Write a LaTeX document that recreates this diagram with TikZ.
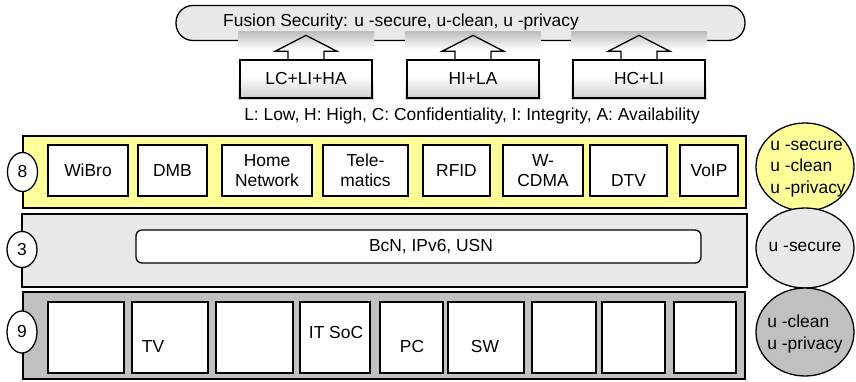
\documentclass[tikz,border=0pt]{standalone}
\usepackage{fontspec}
\setmainfont{Liberation Sans}
\usepackage{tikz}
\usetikzlibrary{shapes.geometric}
\definecolor{paleyellow}{RGB}{255,255,153}
\definecolor{lightgrey}{RGB}{233,233,233}
\definecolor{midgrey}{RGB}{192,192,192}
\pgfdeclareverticalshading{panel}{100bp}{color(0bp)=(gray!40); color(25bp)=(gray!40); color(43bp)=(white);
    color(62bp)=(white); color(75bp)=(gray!50); color(100bp)=(gray!50)}

\begin{document}
\begin{tikzpicture}[x=1pt, y=-1pt, font=\fontsize{17.4}{20}\selectfont, line width=1.3pt,
    item/.style={draw, fill=white, inner sep=0pt, align=center},
    badge/.style={draw, ellipse, fill=white, inner sep=0pt, minimum width=30pt},
    aim/.style={draw, ellipse, inner sep=0pt, minimum width=98pt},
    aimtext/.style={align=left, font=\fontsize{17.4}{21.5}\selectfont}]
                \useasboundingbox (0,0) rectangle (856,382);
                % top bar
                \node[draw, fill=lightgrey, rounded corners=17pt, minimum width=569pt, minimum height=35pt] (fusion) at (460.5,23) {};
                \node (fusiontext) at (401,22) {Fusion Security: u -secure, u-clean, u -privacy};
                % arrows
                \foreach \l/\n/\t in {240/lcliha/{LC+LI+HA}, 407/hila/{HI+LA}, 573/hcli/{HC+LI}}{
                    \shade[shading=panel] (\l-2,32) rectangle (\l+134,100);
                    \node[item, fill=none, minimum width=132pt, minimum height=38pt] (\n) at (\l+66,79) {\t};
                    \draw (\n.north) ++(-18,0) -- ++(0,-8) -- ++(-13,0) -- ++(31,-16) -- ++(31,16) -- ++(-13,0) -- ++(0,8);
                }
                \node (legend) at (472,116) {L: Low, H: High, C: Confidentiality, I: Integrity, A: Availability};
                % services
                \node[draw, fill=paleyellow, minimum width=723pt, minimum height=72pt] (services) at (384.5,172) {};
                \node[badge, minimum height=39pt] (n8) at (22.5,172) {8};
                \foreach \l/\r/\n/\t in {48/128/wibro/WiBro, 138/207/dmb/DMB, 222/312/home/{Home\\Network}, 323/408/tele/{Tele-\\matics},
                        423/490/rfid/RFID, 503/583/wcdma/{W-\\CDMA}, 590/667/dtv/{\mbox{}\\[11pt]DTV}, 680/738/voip/VoIP}
                    \node[item, minimum width={(\r-\l)*1pt}, minimum height=51pt] (\n) at ({(\l+\r)/2},170.5) {\t};
                % infrastructure
                \node[draw, fill=lightgrey, minimum width=725pt, minimum height=73pt] (infra) at (384.5,250.5) {};
                \node[badge, minimum height=36pt] (n3) at (22,249.5) {3};
                \node[item, rounded corners=6pt, minimum width=565pt, minimum height=33pt] (core) at (418.5,246.5) {};
                \node (coretext) at (431,246.5) {BcN, IPv6, USN};
                % devices
                \node[draw, fill=midgrey, minimum width=722pt, minimum height=87pt] (devices) at (384,335.5) {};
                \node[badge, minimum height=42pt] (n9) at (22,332) {9};
                \foreach \l/\r/\n in {48/124/dev1, 132/208/dev2, 216/293/dev3, 300/370/dev4, 380/443/dev5,
                        448/524/dev6, 532/596/dev7, 602/665/dev8, 674/736/dev9}
                    \node[item, minimum width={(\r-\l)*1pt}, minimum height=71pt] (\n) at ({(\l+\r)/2},337.5) {};
                \node (tv) at (153,347) {TV};
                \node (itsoc) at (336,333) {IT SoC};
                \node (pc) at (412,347) {PC};
                \node (sw) at (485,347) {SW};
                % goals
                \node[aim, fill=paleyellow, minimum height=88pt] (goalA) at (805,167) {};
                \node[aimtext] (goalAtext) at (808,169) {u -secure\\u -clean\\u -privacy};
                \node[aim, fill=lightgrey, minimum height=80pt] (goalB) at (805,248) {};
                \node (goalBtext) at (805,247) {u -secure};
                \node[aim, fill=midgrey, minimum height=88pt] (goalC) at (805,332) {};
                \node[aimtext] (goalCtext) at (805,334) {u -clean\\u -privacy};
            \end{tikzpicture}
\end{document}
